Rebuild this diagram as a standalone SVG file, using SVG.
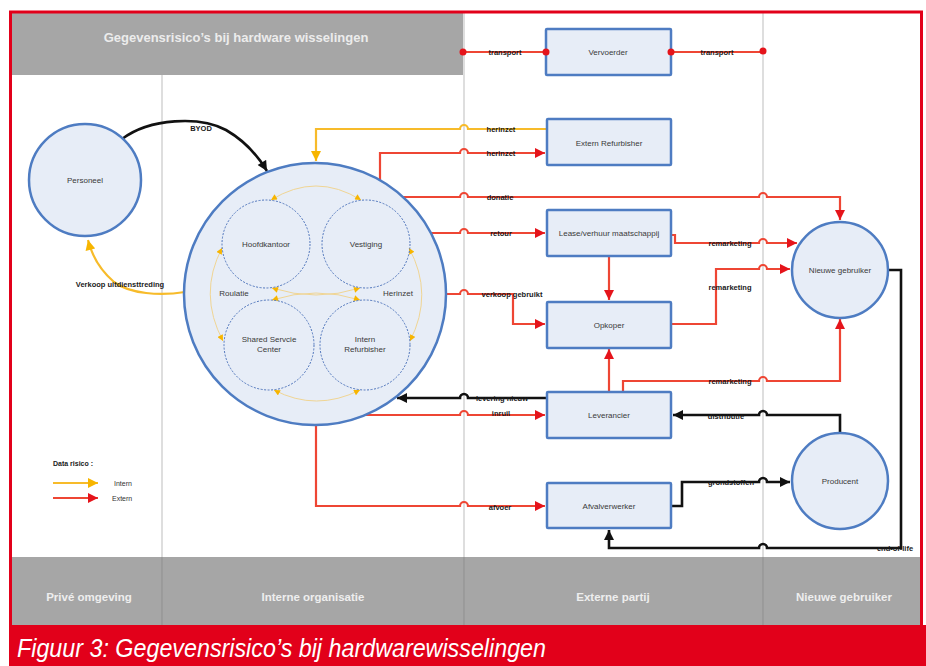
<svg xmlns="http://www.w3.org/2000/svg" width="926" height="666" viewBox="0 0 926 666">
<defs>
<style>
.node{fill:#e7edf7;stroke:#4e7cc2;stroke-width:2.5}
.inner{fill:none;stroke:#4e74bb;stroke-width:1;stroke-dasharray:2 1.5}
.nt{font-family:"Liberation Sans",Arial,sans-serif;font-size:8px;fill:#3a3a3a;text-anchor:middle}
.lb{font-family:"Liberation Sans",Arial,sans-serif;font-size:7.5px;font-weight:bold;fill:#1a1a1a;text-anchor:middle}
.band{font-family:"Liberation Sans",Arial,sans-serif;font-size:11.5px;font-weight:bold;fill:#eeeeee;text-anchor:middle}
.red{fill:none;stroke:#ee4634;stroke-width:2.2}
.blk{fill:none;stroke:#111;stroke-width:2.6}
.yel{fill:none;stroke:#f7bb2a;stroke-width:2.2}
.yin{fill:none;stroke:#f0d594;stroke-width:1}
.col{stroke:#c8c8c8;stroke-width:1.2}
.dot{fill:#e5141b}
</style>
<marker id="ar" viewBox="0 0 10 10" refX="10" refY="5" markerWidth="11" markerHeight="10" markerUnits="userSpaceOnUse" orient="auto"><path d="M0,0 L10,5 L0,10 z" fill="#e5141b"/></marker>
<marker id="ab" viewBox="0 0 10 10" refX="10" refY="5" markerWidth="11" markerHeight="10" markerUnits="userSpaceOnUse" orient="auto"><path d="M0,0 L10,5 L0,10 z" fill="#111"/></marker>
<marker id="ay" viewBox="0 0 10 10" refX="10" refY="5" markerWidth="11" markerHeight="10" markerUnits="userSpaceOnUse" orient="auto"><path d="M0,0 L10,5 L0,10 z" fill="#f7b500"/></marker>
<marker id="ays" viewBox="0 0 10 10" refX="10" refY="5" markerWidth="7" markerHeight="6" markerUnits="userSpaceOnUse" orient="auto-start-reverse"><path d="M0,0 L10,5 L0,10 z" fill="#f7b500"/></marker>
</defs>
<rect width="926" height="666" fill="#ffffff"/>
<!-- bands -->
<rect x="12" y="13" width="451" height="62" fill="#a6a6a6"/>
<text x="236" y="42" font-family="Liberation Sans,Arial,sans-serif" font-size="13" font-weight="bold" fill="#ececec" text-anchor="middle">Gegevensrisico’s bij hardware wisselingen</text>
<line class="col" x1="162" y1="75" x2="162" y2="558"/>
<line class="col" x1="464" y1="13" x2="464" y2="558"/>
<line class="col" x1="763" y1="13" x2="763" y2="558"/>
<rect x="12" y="557" width="909" height="68" fill="#a6a6a6"/>
<line x1="162" y1="557" x2="162" y2="625" stroke="#8f8f8f" stroke-width="1"/>
<line x1="464" y1="557" x2="464" y2="625" stroke="#8f8f8f" stroke-width="1"/>
<line x1="763" y1="557" x2="763" y2="625" stroke="#8f8f8f" stroke-width="1"/>
<text class="band" x="89" y="601">Privé omgeving</text>
<text class="band" x="313" y="601">Interne organisatie</text>
<text class="band" x="613" y="601">Externe partij</text>
<text class="band" x="844" y="601">Nieuwe gebruiker</text>
<rect x="10.5" y="12" width="911" height="615" fill="none" stroke="#e2001a" stroke-width="3"/>
<rect x="9" y="625" width="917" height="41" fill="#e2001a"/>
<text x="17" y="657" font-family="Liberation Sans,Arial,sans-serif" font-size="25" font-style="italic" fill="#ffffff" textLength="529" lengthAdjust="spacingAndGlyphs">Figuur 3: Gegevensrisico’s bij hardwarewisselingen</text>

<!-- connectors -->
<g id="connectors">
<path class="red" d="M463,52 H546"/>
<path class="red" d="M671,52 H763"/>
<path class="yel" d="M547,129 H468 a4,4 0 0 0 -8,0 H316 V161" marker-end="url(#ay)"/>
<path class="red" d="M380,181 V153 H460 a4,4 0 0 1 8,0 H545" marker-end="url(#ar)"/>
<path class="red" d="M402,197 H460 a4,4 0 0 1 8,0 H759 a4,4 0 0 1 8,0 H840 V220" marker-end="url(#ar)"/>
<path class="red" d="M431,233 H460 a4,4 0 0 1 8,0 H545" marker-end="url(#ar)"/>
<path class="red" d="M446,294 H460 a4,4 0 0 1 8,0 H513 V324 H545" marker-end="url(#ar)"/>
<path class="blk" d="M547,398 H468 a4,4 0 0 0 -8,0 H397" marker-end="url(#ab)"/>
<path class="red" d="M365,415 H460 a4,4 0 0 1 8,0 H545" marker-end="url(#ar)"/>
<path class="red" d="M316,425 V506 H460 a4,4 0 0 1 8,0 H545" marker-end="url(#ar)"/>
<path class="red" d="M609,256 V300" marker-end="url(#ar)"/>
<path class="red" d="M609,392 V349" marker-end="url(#ar)"/>
<path class="red" d="M671,235 H675 V243 H759 a4,4 0 0 1 8,0 H797" marker-end="url(#ar)"/>
<path class="red" d="M671,324 H716 V269 H759 a4,4 0 0 1 8,0 H790" marker-end="url(#ar)"/>
<path class="red" d="M623,392 V381 H759 a4,4 0 0 1 8,0 H840 V319" marker-end="url(#ar)"/>
<path class="blk" d="M840,433 V415 H767 a4,4 0 0 0 -8,0 H673" marker-end="url(#ab)"/>
<path class="blk" d="M671,506 H682 V482 H759 a4,4 0 0 1 8,0 H790" marker-end="url(#ab)"/>
<path class="blk" d="M888,270 H901 V548 H767 a4,4 0 0 0 -8,0 H609 V530" marker-end="url(#ab)"/>
<path class="blk" d="M122,139 C150,118 200,116 226,130 C245,141 258,156 267,171" marker-end="url(#ab)"/>
<path class="yel" d="M185,292 C160,296 130,294 114,282 C100,270 92,256 88,240" marker-end="url(#ay)"/>
</g>

<!-- connector labels -->
<g id="labels">
<text class="lb" x="505" y="55">transport</text>
<text class="lb" x="717" y="55">transport</text>
<text class="lb" x="501" y="132">herinzet</text>
<text class="lb" x="501" y="156">herinzet</text>
<text class="lb" x="500" y="200">donatie</text>
<text class="lb" x="501" y="236">retour</text>
<text class="lb" x="512" y="297">verkoop gebruikt</text>
<text class="lb" x="502" y="401">levering nieuw</text>
<text class="lb" x="501" y="416">inruil</text>
<text class="lb" x="500" y="510">afvoer</text>
<text class="lb" x="730" y="246">remarketing</text>
<text class="lb" x="730" y="290">remarketing</text>
<text class="lb" x="730" y="384">remarketing</text>
<text class="lb" x="726" y="419">distributie</text>
<text class="lb" x="731" y="485">grondstoffen</text>
<text class="lb" x="895" y="551">end-of-life</text>
<text class="lb" x="201" y="131">BYOD</text>
<text class="lb" x="120" y="287">Verkoop uitdiensttreding</text>
</g>

<!-- nodes -->
<g id="personeel"><circle class="node" cx="85" cy="180" r="56"/><text class="nt" x="85" y="183">Personeel</text></g>
<g id="interne-organisatie">
<circle class="node" cx="315" cy="294" r="131"/>
<path class="yin" d="M271,200 Q316,172 361,200" marker-start="url(#ays)" marker-end="url(#ays)"/>
<path class="yin" d="M222,248 Q198,294 223,341" marker-start="url(#ays)" marker-end="url(#ays)"/>
<path class="yin" d="M409,248 Q434,294 410,341" marker-start="url(#ays)" marker-end="url(#ays)"/>
<path class="yin" d="M274,390 Q316,412 360,390" marker-start="url(#ays)" marker-end="url(#ays)"/>
<path class="yin" d="M272,288 Q316,302 360,288" marker-start="url(#ays)" marker-end="url(#ays)"/>
<path class="yin" d="M272,300 Q316,286 360,300" marker-start="url(#ays)" marker-end="url(#ays)"/>
<text class="nt" x="234" y="296">Roulatie</text>
<text class="nt" x="398" y="296">Herinzet</text>
</g>
<g id="hoofdkantoor"><circle class="inner" cx="266" cy="244" r="44"/><text class="nt" x="266" y="247">Hoofdkantoor</text></g>
<g id="vestiging"><circle class="inner" cx="366" cy="244" r="44"/><text class="nt" x="366" y="247">Vestiging</text></g>
<g id="shared-service-center"><circle class="inner" cx="269" cy="345" r="45"/><text class="nt" x="269" y="342">Shared Servcie</text><text class="nt" x="269" y="352">Center</text></g>
<g id="intern-refurbisher"><circle class="inner" cx="365" cy="345" r="45"/><text class="nt" x="365" y="342">Intern</text><text class="nt" x="365" y="352">Refurbisher</text></g>
<g id="vervoerder"><rect class="node" x="546" y="29" width="125" height="46" rx="1"/><text class="nt" x="608" y="55">Vervoerder</text></g>
<g id="extern-refurbisher"><rect class="node" x="547" y="119" width="124" height="46" rx="1"/><text class="nt" x="609" y="146">Extern Refurbisher</text></g>
<g id="lease"><rect class="node" x="547" y="210" width="124" height="46" rx="1"/><text class="nt" x="609" y="236">Lease/verhuur maatschappij</text></g>
<g id="opkoper"><rect class="node" x="547" y="302" width="124" height="46" rx="1"/><text class="nt" x="609" y="328">Opkoper</text></g>
<g id="leverancier"><rect class="node" x="547" y="392" width="124" height="46" rx="1"/><text class="nt" x="609" y="418">Leverancier</text></g>
<g id="afvalverwerker"><rect class="node" x="547" y="483" width="124" height="45" rx="1"/><text class="nt" x="609" y="509">Afvalverwerker</text></g>
<g id="nieuwe-gebruiker"><circle class="node" cx="840" cy="270" r="48"/><text class="nt" x="840" y="273">Nieuwe gebruiker</text></g>
<g id="producent"><circle class="node" cx="840" cy="481" r="48"/><text class="nt" x="840" y="484">Producent</text></g>

<!-- transport end points -->
<g id="transport-dots">
<circle class="dot" cx="463" cy="52" r="3.5"/>
<circle class="dot" cx="546" cy="52" r="3.5"/>
<circle class="dot" cx="671" cy="52" r="3.5"/>
<circle class="dot" cx="763" cy="51" r="3.5"/>
</g>

<!-- legend -->
<g id="legend">
<text x="53" y="466" font-family="Liberation Sans,Arial,sans-serif" font-size="7" font-weight="bold" fill="#1a1a1a">Data risico :</text>
<path class="yel" d="M53,483 H98" marker-end="url(#ay)"/>
<path class="red" d="M53,498 H98" marker-end="url(#ar)"/>
<text x="114" y="486" font-family="Liberation Sans,Arial,sans-serif" font-size="7" fill="#333">Intern</text>
<text x="112" y="501" font-family="Liberation Sans,Arial,sans-serif" font-size="7" fill="#333">Extern</text>
</g>
</svg>
